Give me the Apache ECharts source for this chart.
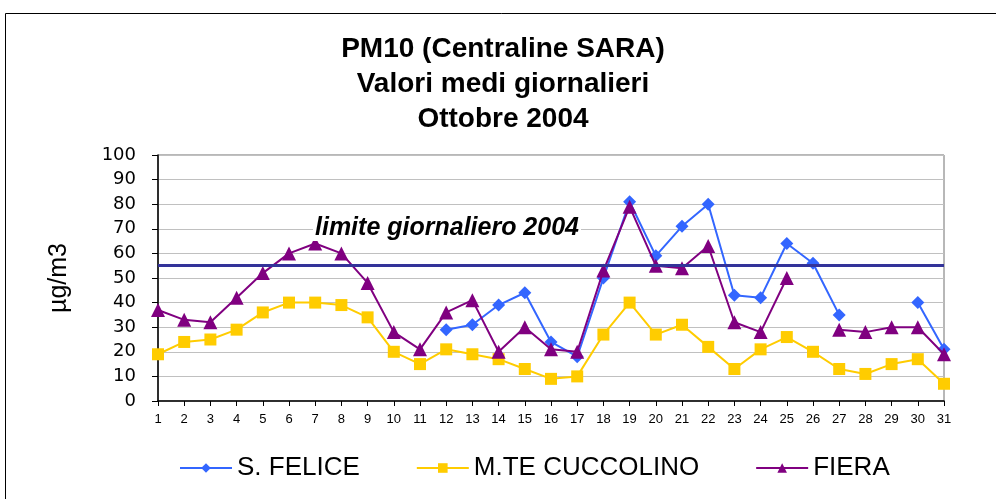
<!DOCTYPE html>
<html>
<head>
<meta charset="utf-8">
<script src="https://cdn.jsdelivr.net/npm/echarts@6/dist/echarts.min.js"></script>
<style>
  html, body { margin: 0; padding: 0; background: #fff; }
  #main { width: 996px; height: 499px; }
</style>
</head>
<body>
<div id="main"></div>
<script>
var giorni = [];
for (var d = 1; d <= 31; d++) giorni.push(String(d));

var sFelice = [null, null, null, null, null, null, null, null, null, null, null,
    29, 31, 39, 44, 24, 18, 50, 81, 59, 71, 80, 43, 42, 64, 56, 35, null, null, 40, 21];
var cuccolino = [19, 24, 25, 29, 36, 40, 40, 39, 34, 20, 15, 21, 19, 17, 13, 9,
    10, 27, 40, 27, 31, 22, 13, 21, 26, 20, 13, 11, 15, 17, 7];
var fiera = [37, 33, 32, 42, 52, 60, 64, 60, 48, 28, 21, 36, 41, 20, 30, 21,
    20, 53, 79, 55, 54, 63, 32, 28, 50, null, 29, 28, 30, 30, 19];
var limite = 55;

var chart = echarts.init(document.getElementById('main'));

var font = 'Liberation Sans, Arial, sans-serif';

var option = {
    animation: false,
    textStyle: { fontFamily: font },
    title: {
        text: 'PM10 (Centraline SARA)\nValori medi giornalieri\nOttobre 2004',
        left: 498,
        top: 27,
        textAlign: 'center',
        textStyle: { fontSize: 28, fontWeight: 'bold', color: '#000', lineHeight: 35, fontFamily: font }
    },
    graphic: [
        { type: 'rect', shape: { x: 5.5, y: 13.5, width: 1000, height: 500 },
          style: { fill: 'none', stroke: '#000', lineWidth: 1 } },
        { type: 'text', left: 313, top: 216, z: 100,
          style: { text: 'limite giornaliero 2004', font: 'italic bold 25px ' + font, fill: '#000',
                   backgroundColor: '#fff', padding: [0, 2] } }
    ],
    legend: {
        top: 450,
        left: 174,
        itemGap: 56,
        itemWidth: 52,
        itemHeight: 12,
        textStyle: { fontSize: 26, color: '#000', fontFamily: font },
        data: ['S. FELICE', 'M.TE CUCCOLINO', 'FIERA']
    },
    grid: { left: 158, right: 52, top: 155, bottom: 98, show: true, borderColor: '#707070', borderWidth: 1 },
    xAxis: {
        type: 'category',
        boundaryGap: false,
        data: giorni,
        axisLine: { lineStyle: { color: '#000', width: 1.5 } },
        axisTick: { show: true, alignWithLabel: true, length: 5, lineStyle: { color: '#000' } },
        axisLabel: { fontSize: 13, color: '#000', margin: 12, interval: 0 }
    },
    yAxis: {
        type: 'value',
        min: 0, max: 100, interval: 10,
        name: 'µg/m3',
        nameLocation: 'middle',
        nameGap: 86,
        nameRotate: 90,
        nameTextStyle: { fontSize: 25, color: '#000' },
        axisLine: { show: true, lineStyle: { color: '#000', width: 1.5 } },
        axisTick: { show: true, length: 6, lineStyle: { color: '#000' } },
        axisLabel: { fontSize: 18, color: '#000', margin: 22, fontFamily: 'DejaVu Sans' },
        splitLine: { lineStyle: { color: '#c0c0c0' } }
    },
    series: [
        {
            name: 'S. FELICE', type: 'line', data: sFelice,
            symbol: 'diamond', symbolSize: 13, connectNulls: false,
            itemStyle: { color: '#3366ff' }, lineStyle: { width: 2, color: '#3366ff' }, z: 3
        },
        {
            name: 'M.TE CUCCOLINO', type: 'line', data: cuccolino,
            symbol: 'rect', symbolSize: 12,
            itemStyle: { color: '#ffcc00' }, lineStyle: { width: 2, color: '#ffcc00' }, z: 2
        },
        {
            name: 'FIERA', type: 'line', data: fiera,
            symbol: 'triangle', symbolSize: 14, connectNulls: false,
            itemStyle: { color: '#800080' }, lineStyle: { width: 2, color: '#800080' }, z: 4,
            markLine: {
                silent: true, symbol: 'none', label: { show: false },
                lineStyle: { color: '#333399', width: 3, type: 'solid' },
                data: [{ yAxis: limite }]
            }
        }
    ]
};

chart.setOption(option);
</script>
</body>
</html>
